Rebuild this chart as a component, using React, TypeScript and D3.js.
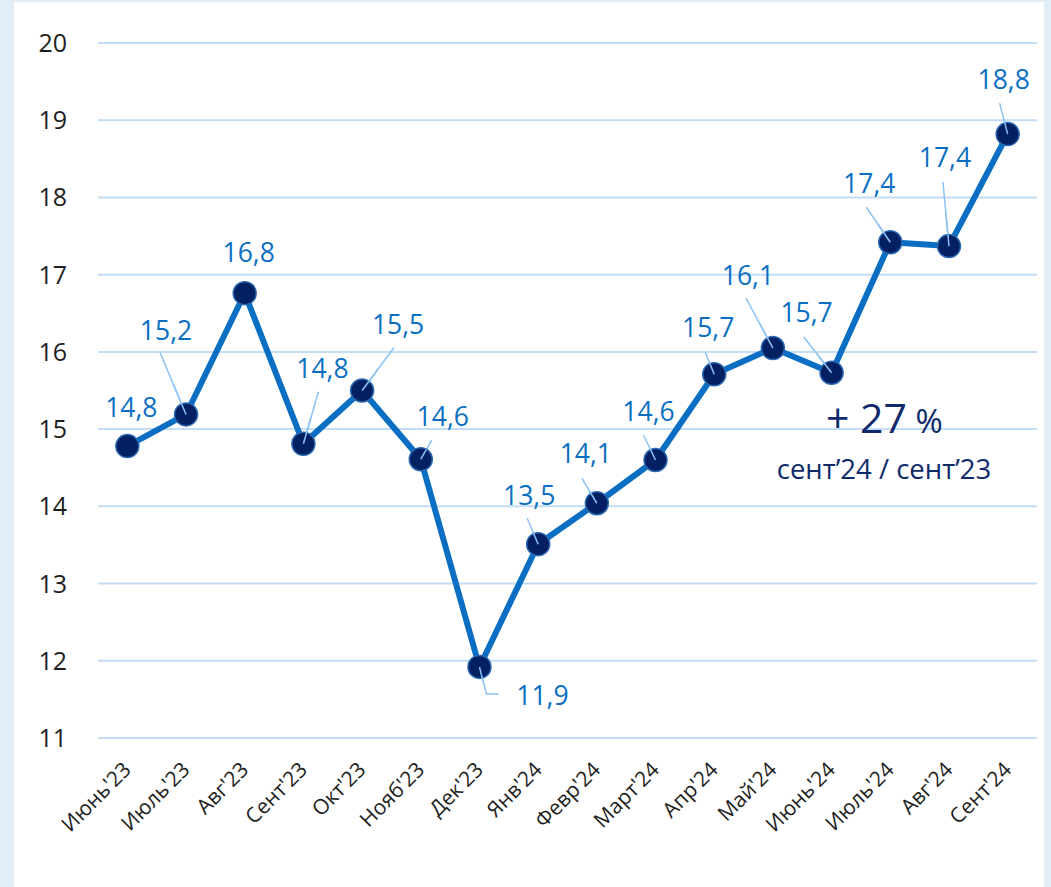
import React from "react";
import * as d3 from "d3";

const categories = [
  "Июнь'23", "Июль'23", "Авг'23", "Сент'23", "Окт'23", "Нояб'23", "Дек'23", "Янв'24",
  "Февр'24", "Март'24", "Апр'24", "Май'24", "Июнь'24", "Июль'24", "Авг'24", "Сент'24",
];
const values = [14.78, 15.19, 16.76, 14.81, 15.5, 14.61, 11.92, 13.51, 14.04, 14.6, 15.71, 16.05, 15.73, 17.42, 17.37, 18.82];
const valueLabels = ["14,8", "15,2", "16,8", "14,8", "15,5", "14,6", "11,9", "13,5", "14,1", "14,6", "15,7", "16,1", "15,7", "17,4", "17,4", "18,8"];
const yTicks = [11, 12, 13, 14, 15, 16, 17, 18, 19, 20];

// label placement relative to its point: [text dx, text dy, leader dx, leader dy] (leader null when none)
const labelLayout: [number, number, number | null, number | null][] = [
  [4, -29, null, null],
  [-20, -74, -26, -62],
  [4, -31, null, null],
  [19, -66, 15, -52],
  [36, -57, 32, -43],
  [22, -33, 11, -19],
  [63, 38, 7, 27],
  [-9, -39, -11, -26],
  [-11, -40, -15, -25],
  [-7, -39, -12, -25],
  [-6, -37, -9, -22],
  [-25, -63, -27, -50],
  [-25, -51, -28, -36],
  [-21, -49, -24, -35],
  [-4, -79, -6, -64],
  [-4, -45, -8, -31],
];

const FONT = "'Open Sans', 'DejaVu Sans', sans-serif";

export default function App() {
  const W = 1051, H = 887;
  const x = d3.scaleBand<string>().domain(categories).range([98, 1037]);
  const y = d3.scaleLinear().domain([11, 20]).range([738, 43]);
  const cx = (c: string) => (x(c) as number) + x.bandwidth() / 2;
  const pts = categories.map((c, i) => [cx(c), y(values[i])] as [number, number]);
  const line = d3.line<[number, number]>().x((d) => d[0]).y((d) => d[1]);

  return (
    <svg width={W} height={H} style={{ position: "absolute", left: 0, top: 0 }}>
      <rect x={0} y={0} width={W} height={H} fill="#e1eef8" />
      <rect x={14} y={2} width={1030} height={H - 2} fill="#ffffff" />
      {yTicks.map((t) => (
        <g key={t}>
          <line x1={98} x2={1037} y1={y(t)} y2={y(t)} stroke="#c3ddf6" strokeWidth={2} />
          <text x={67} y={y(t) + 9} textAnchor="end" fontFamily={FONT} fontSize={25} fill="#1e1e1e">
            {t}
          </text>
        </g>
      ))}
      {categories.map((c) => (
        <text
          key={c}
          transform={`translate(${cx(c) + 5},${771}) rotate(-45)`}
          textAnchor="end"
          fontFamily={FONT}
          fontSize={21}
          fill="#1e1e1e"
        >
          {c}
        </text>
      ))}
      {pts.map((p, i) => {
        const l = labelLayout[i];
        if (l[2] === null) return null;
        if (i === 6) {
          return (
            <polyline
              key={"ld" + i}
              points={`${p[0]},${p[1]} ${p[0] + (l[2] as number)},${p[1] + (l[3] as number)} ${p[0] + 19},${p[1] + (l[3] as number)}`}
              fill="none"
              stroke="#8cc2f4"
              strokeWidth={1.5}
            />
          );
        }
        return (
          <line
            key={"ld" + i}
            x1={p[0]}
            y1={p[1]}
            x2={p[0] + (l[2] as number)}
            y2={p[1] + (l[3] as number)}
            stroke="#8cc2f4"
            strokeWidth={1.5}
          />
        );
      })}
      <path d={line(pts) as string} fill="none" stroke="#0a6fc2" strokeWidth={6} strokeLinejoin="round" />
      {pts.map((p, i) => (
        <circle key={"m" + i} cx={p[0]} cy={p[1]} r={11.5} fill="#032062" stroke="#2a68b0" strokeWidth={1.5} />
      ))}
      {pts.map((p, i) => {
        const l = labelLayout[i];
        return (
          <g key={"lab" + i}>
            {l[2] !== null && i !== 6 && (
              <line
                x1={p[0]}
                y1={p[1]}
                x2={p[0] + (l[2] as number) * 0.5}
                y2={p[1] + (l[3] as number) * 0.5}
                stroke="#8cc2f4"
                strokeWidth={1.5}
              />
            )}
            {i === 6 && (
              <line x1={p[0]} y1={p[1]} x2={p[0] + 3} y2={p[1] + 12} stroke="#8cc2f4" strokeWidth={1.5} />
            )}
            <text x={p[0] + l[0]} y={p[1] + l[1]} textAnchor="middle" fontFamily={FONT} fontSize={26.5} fill="#0a6fc2">
              {valueLabels[i]}
            </text>
          </g>
        );
      })}
      <text x={826} y={433} fontFamily={FONT} fill="#0f2a6a">
        <tspan fontSize={41}>+ 27</tspan>
        <tspan fontSize={33}> %</tspan>
      </text>
      <text x={884} y={479} textAnchor="middle" fontFamily={FONT} fontSize={27.5} fill="#0f2a6a">
        сент’24 / сент’23
      </text>
    </svg>
  );
}
